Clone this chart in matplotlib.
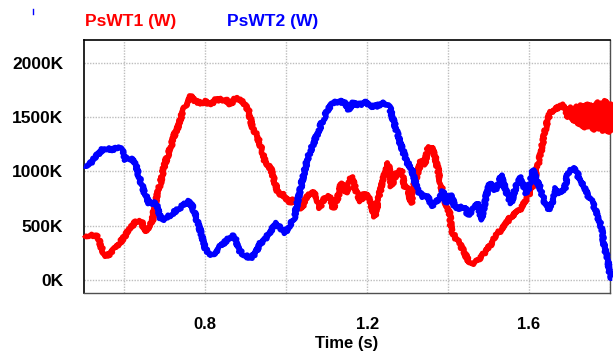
import matplotlib
matplotlib.use('Agg')
import matplotlib.pyplot as plt
from matplotlib.lines import Line2D

# PsWT1 (red) samples: time in s, power in kW
t_wt1 = [0.500, 0.517, 0.529, 0.537, 0.545, 0.554, 0.566, 0.578, 0.591, 0.603,
         0.615, 0.628, 0.636, 0.644, 0.650, 0.661, 0.669, 0.673, 0.681, 0.689,
         0.698, 0.706, 0.714, 0.722, 0.731, 0.739, 0.747, 0.755, 0.763, 0.776,
         0.788, 0.800, 0.813, 0.825, 0.837, 0.850, 0.862, 0.875, 0.883, 0.895,
         0.907, 0.916, 0.928, 0.940, 0.947, 0.951, 0.963, 0.972, 0.980, 0.992,
         1.000, 1.009, 1.017, 1.029, 1.038, 1.050, 1.062, 1.075, 1.083, 1.095,
         1.107, 1.116, 1.128, 1.136, 1.149, 1.161, 1.169, 1.182, 1.194, 1.206,
         1.219, 1.227, 1.239, 1.252, 1.260, 1.272, 1.284, 1.293, 1.301, 1.309,
         1.317, 1.326, 1.334, 1.342, 1.350, 1.359, 1.367, 1.375, 1.383, 1.391,
         1.404, 1.408, 1.416, 1.428, 1.441, 1.449, 1.457, 1.470, 1.482, 1.494,
         1.507, 1.519, 1.531, 1.544, 1.556, 1.568, 1.581, 1.589, 1.597, 1.610,
         1.618, 1.626, 1.634, 1.642, 1.651, 1.663, 1.675, 1.684, 1.692, 1.697,
         1.704, 1.709, 1.717, 1.722, 1.729, 1.734, 1.741, 1.746, 1.754, 1.759,
         1.766, 1.771, 1.778, 1.783, 1.790, 1.795, 1.799, 1.803, 1.806]
p_wt1 = [417, 408, 417, 371, 279, 224, 248, 294, 356, 417,
         479, 540, 555, 525, 448, 494, 540, 647, 785, 893,
         1046, 1138, 1215, 1322, 1399, 1491, 1568, 1644, 1690, 1644,
         1629, 1644, 1613, 1660, 1660, 1660, 1613, 1675, 1660, 1629,
         1552, 1414, 1322, 1200, 1090, 1077, 1015, 893, 801, 785,
         755, 709, 739, 709, 663, 770, 816, 770, 663, 755,
         770, 663, 770, 893, 801, 954, 862, 724, 801, 739,
         586, 739, 923, 1077, 862, 985, 1015, 862, 831, 709,
         893, 1000, 1107, 1061, 1215, 1230, 1150, 1015, 862, 739,
         617, 463, 402, 340, 248, 187, 150, 172, 218, 264,
         340, 417, 463, 525, 586, 617, 663, 724, 770, 862,
         1000, 1123, 1261, 1414, 1537, 1568, 1598, 1613, 1552, 1500,
         1590, 1460, 1600, 1430, 1610, 1400, 1620, 1410, 1610, 1380,
         1640, 1390, 1630, 1370, 1650, 1360, 1620, 1380, 1506]

# PsWT2 (blue) samples
t_wt2 = [0.500, 0.517, 0.533, 0.549, 0.566, 0.582, 0.595, 0.603, 0.615, 0.628,
         0.636, 0.644, 0.652, 0.661, 0.673, 0.681, 0.689, 0.698, 0.714, 0.730,
         0.747, 0.759, 0.768, 0.776, 0.784, 0.792, 0.800, 0.809, 0.821, 0.837,
         0.854, 0.866, 0.875, 0.883, 0.895, 0.912, 0.924, 0.936, 0.947, 0.963,
         0.976, 0.984, 0.996, 1.009, 1.021, 1.029, 1.038, 1.046, 1.054, 1.066,
         1.079, 1.091, 1.103, 1.116, 1.132, 1.145, 1.153, 1.165, 1.182, 1.194,
         1.206, 1.219, 1.231, 1.243, 1.256, 1.264, 1.272, 1.280, 1.289, 1.297,
         1.309, 1.317, 1.326, 1.338, 1.350, 1.359, 1.367, 1.379, 1.387, 1.396,
         1.408, 1.416, 1.428, 1.441, 1.449, 1.461, 1.474, 1.482, 1.494, 1.503,
         1.515, 1.523, 1.531, 1.540, 1.548, 1.556, 1.564, 1.577, 1.585, 1.593,
         1.601, 1.610, 1.618, 1.626, 1.634, 1.642, 1.651, 1.659, 1.667, 1.675,
         1.688, 1.696, 1.708, 1.717, 1.725, 1.737, 1.745, 1.758, 1.770, 1.778,
         1.786, 1.795, 1.801, 1.806]
p_wt2 = [1052, 1077, 1153, 1215, 1200, 1215, 1200, 1107, 1123, 1061,
         954, 862, 785, 709, 709, 693, 570, 555, 601, 647,
         693, 724, 678, 586, 494, 402, 294, 224, 248, 310,
         371, 417, 371, 279, 233, 202, 248, 340, 371, 463,
         525, 494, 433, 509, 586, 739, 893, 1015, 1138, 1245,
         1368, 1476, 1568, 1629, 1644, 1629, 1568, 1629, 1613, 1644,
         1598, 1598, 1613, 1629, 1583, 1476, 1383, 1276, 1184, 1092,
         1031, 923, 816, 770, 770, 678, 709, 755, 816, 709,
         785, 678, 663, 678, 601, 647, 709, 555, 770, 893,
         831, 862, 969, 862, 770, 709, 816, 954, 893, 801,
         862, 1015, 923, 862, 770, 678, 647, 739, 847, 801,
         831, 985, 1031, 1015, 908, 862, 785, 709, 586, 494,
         310, 187, 34, 18]

x_ticks = [0.6, 0.8, 1.0, 1.2, 1.4, 1.6, 1.8]
x_labels = ['', '0.8', '', '1.2', '', '1.6', '']
y_ticks = [0, 500, 1000, 1500, 2000]
y_labels = ['0K', '500K', '1000K', '1500K', '2000K']

plt.rcParams['font.family'] = ['Liberation Sans', 'DejaVu Sans']
plt.rcParams['font.weight'] = 'bold'

fig = plt.figure(figsize=(6.13, 3.54), dpi=100)
ax = fig.add_axes([0.137, 0.1723, 0.858, 0.7147])

for t, p, c in [(t_wt1, p_wt1, '#ff0000'), (t_wt2, p_wt2, '#0000ff')]:
    ln, = ax.plot(t, p, '-', color=c, linewidth=3.9, clip_on=False,
                  solid_joinstyle='round', solid_capstyle='butt', zorder=3)
    ln.set_sketch_params(scale=1.4, length=1.6, randomness=6)

ax.set_xlim(0.5, 1.8)
ax.set_ylim(-117, 2208)
ax.set_xticks(x_ticks)
ax.set_xticklabels(x_labels)
ax.set_yticks(y_ticks)
ax.set_yticklabels(y_labels)
ax.tick_params(axis='both', length=0, labelsize=12.5)
ax.tick_params(axis='x', pad=17, labelsize=12)
ax.tick_params(axis='y', pad=15)
ax.grid(True, color='#bdbdbd', linestyle=(0, (1, 1)), linewidth=1.0)
ax.set_axisbelow(True)

for side in ['left', 'top']:
    ax.spines[side].set_color('black')
    ax.spines[side].set_linewidth(1.2)
for side in ['bottom', 'right']:
    ax.spines[side].set_color('#505050')
    ax.spines[side].set_linewidth(1.0)

ax.set_xlabel('Time (s)', fontsize=12, fontweight='bold', labelpad=3)

fig.text(85 / 613, 1 - 25.7 / 354, 'PsWT1 (W)', color='#ff0000', fontsize=12.5,
         fontweight='bold', va='baseline', ha='left')
fig.text(227 / 613, 1 - 25.7 / 354, 'PsWT2 (W)', color='#0000ff', fontsize=12.5,
         fontweight='bold', va='baseline', ha='left')

# small marker at the top-left corner
fig.add_artist(Line2D([33 / 613, 33 / 613], [1 - 9 / 354, 1 - 14 / 354],
                      color='#0000ff', linewidth=1.0, transform=fig.transFigure))

fig.savefig('out.png', dpi=100)
